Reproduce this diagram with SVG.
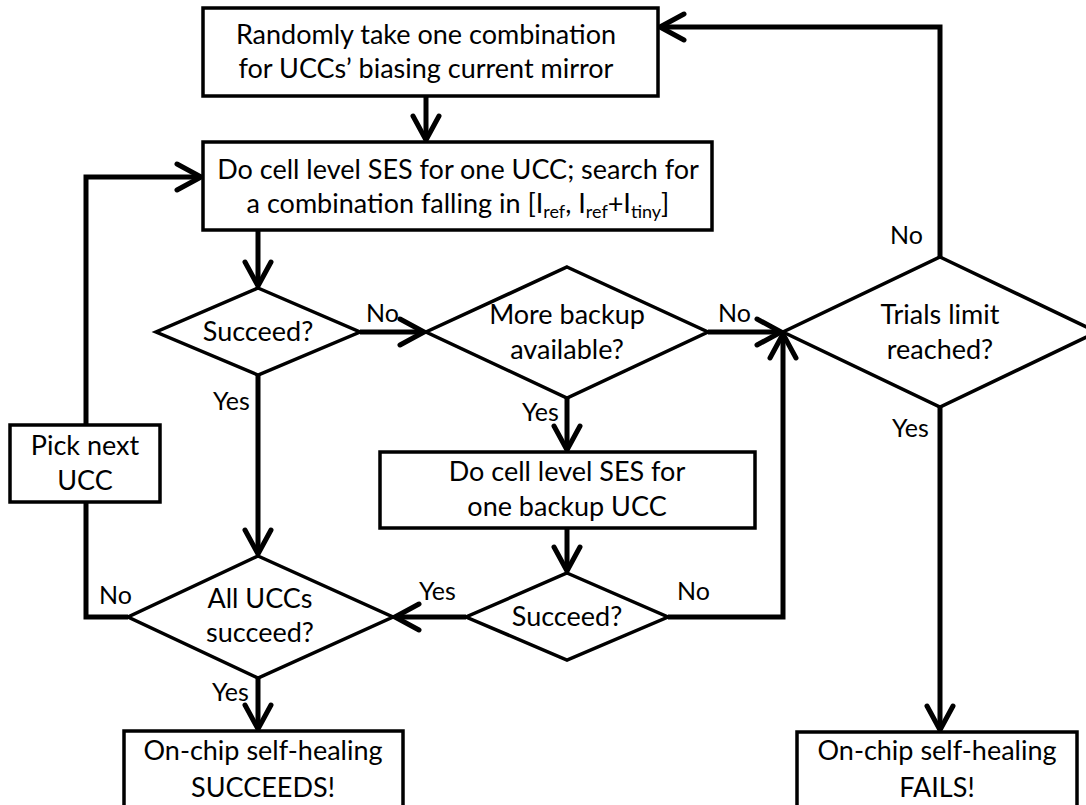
<svg xmlns="http://www.w3.org/2000/svg" width="1086" height="805" viewBox="0 0 1086 805">
<style>
.box{fill:#fff;stroke:#000;stroke-width:3.5}
.t{font-family:Lato,"Liberation Sans",sans-serif;font-size:27px;fill:#000;text-anchor:middle}
.l{font-family:Lato,"Liberation Sans",sans-serif;font-size:25px;fill:#000}
.c{fill:none;stroke:#000;stroke-width:5;stroke-linejoin:miter}
.sub{font-size:18px}
</style>
<defs>
<marker id="arr" viewBox="-30 -17 34 34" refX="0" refY="0" markerWidth="34" markerHeight="34" markerUnits="userSpaceOnUse" orient="auto">
<path d="M -24 -13 L 0 0 L -24 13" fill="none" stroke="#000" stroke-width="5" stroke-linecap="round"/>
</marker>
</defs>
<rect width="1086" height="805" fill="#fff"/>
<g id="connectors">
<path class="c" d="M 426 96 L 426 140" marker-end="url(#arr)"/>
<path class="c" d="M 258 230 L 258 286" marker-end="url(#arr)"/>
<path class="c" d="M 360 332 L 424 332" marker-end="url(#arr)"/>
<path class="c" d="M 708 332 L 781 332" marker-end="url(#arr)"/>
<path class="c" d="M 940 257 L 940 27 L 660 27" marker-end="url(#arr)"/>
<path class="c" d="M 940 407 L 940 730" marker-end="url(#arr)"/>
<path class="c" d="M 567 398 L 567 450" marker-end="url(#arr)"/>
<path class="c" d="M 567 528 L 567 571" marker-end="url(#arr)"/>
<path class="c" d="M 668 617 L 783 617 L 783 334" marker-end="url(#arr)"/>
<path class="c" d="M 466 617 L 395 617" marker-end="url(#arr)"/>
<path class="c" d="M 258 375 L 258 554" marker-end="url(#arr)"/>
<path class="c" d="M 258 678 L 258 729" marker-end="url(#arr)"/>
<path class="c" d="M 128 617 L 86 617 L 86 502"/>
<path class="c" d="M 86 425 L 86 177 L 201 177" marker-end="url(#arr)"/>
</g>
<g id="labels">
<text class="l" x="366" y="322">No</text>
<text class="l" x="718" y="322">No</text>
<text class="l" x="890" y="244">No</text>
<text class="l" x="213" y="410">Yes</text>
<text class="l" x="522" y="421">Yes</text>
<text class="l" x="892" y="437">Yes</text>
<text class="l" x="419" y="600">Yes</text>
<text class="l" x="677" y="600">No</text>
<text class="l" x="99" y="604">No</text>
<text class="l" x="212" y="701">Yes</text>
</g>
<g id="n1">
<rect class="box" x="203" y="8" width="455" height="88"/>
<text class="t" x="426" y="44">Randomly take one combination</text>
<text class="t" x="426" y="78">for UCCs’ biasing current mirror</text>
</g>
<g id="n2">
<rect class="box" x="203" y="142" width="509" height="88"/>
<text class="t" x="458" y="179">Do cell level SES for one UCC; search for</text>
<text class="t" x="458" y="213">a combination falling in [I<tspan class="sub" dy="5">ref</tspan><tspan dy="-5">, I</tspan><tspan class="sub" dy="5">ref</tspan><tspan dy="-5">+I</tspan><tspan class="sub" dy="5">tiny</tspan><tspan dy="-5">]</tspan></text>
</g>
<g id="d1">
<polygon class="box" points="258,288 360,332 258,375 156,332"/>
<text class="t" x="258" y="341">Succeed?</text>
</g>
<g id="d2">
<polygon class="box" points="567,267 708,332 567,398 426,332"/>
<text class="t" x="567" y="324">More backup</text>
<text class="t" x="567" y="359">available?</text>
</g>
<g id="d3">
<polygon class="box" points="940,257 1097,332 940,407 783,332"/>
<text class="t" x="940" y="324">Trials limit</text>
<text class="t" x="940" y="359">reached?</text>
</g>
<g id="n3">
<rect class="box" x="380" y="452" width="375" height="76"/>
<text class="t" x="567" y="481">Do cell level SES for</text>
<text class="t" x="567" y="516">one backup UCC</text>
</g>
<g id="d5">
<polygon class="box" points="567,573 668,617 567,660 466,617"/>
<text class="t" x="567" y="626">Succeed?</text>
</g>
<g id="d4">
<polygon class="box" points="258,556 393,617 258,678 128,617"/>
<text class="t" x="260" y="608">All UCCs</text>
<text class="t" x="260" y="642">succeed?</text>
</g>
<g id="n4">
<rect class="box" x="10" y="425" width="150" height="77"/>
<text class="t" x="85" y="455">Pick next</text>
<text class="t" x="85" y="490">UCC</text>
</g>
<g id="n5">
<rect class="box" x="124" y="731" width="279" height="90"/>
<text class="t" x="263" y="760">On-chip self-healing</text>
<text class="t" x="263" y="797">SUCCEEDS!</text>
</g>
<g id="n6">
<rect class="box" x="797" y="732" width="280" height="90"/>
<text class="t" x="937" y="760">On-chip self-healing</text>
<text class="t" x="937" y="797">FAILS!</text>
</g>
</svg>
